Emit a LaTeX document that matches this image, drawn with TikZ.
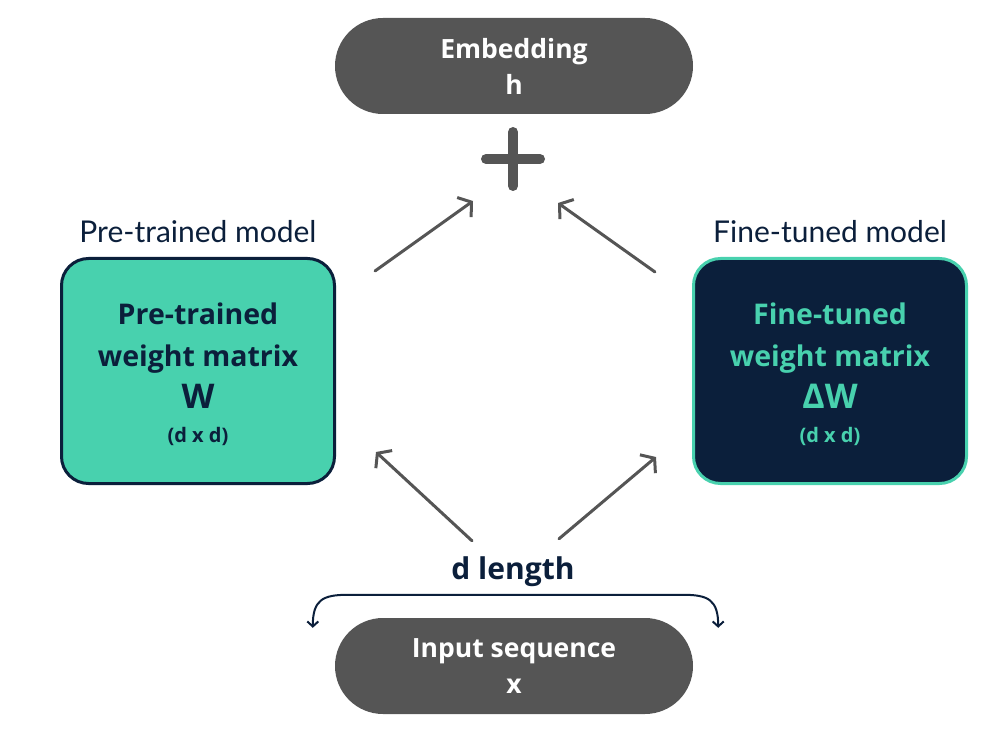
\documentclass[tikz,border=0pt]{standalone}
\usepackage{fontspec}
\setmainfont{Open Sans}
\newfontfamily\handfont{Lato}
\usetikzlibrary{arrows.meta,calc}

\definecolor{mint}{HTML}{48D1AE}
\definecolor{navy}{HTML}{0B1F3B}
\definecolor{pillgray}{HTML}{555555}

\tikzset{
    pill/.style={fill=pillgray, text=white, rounded corners=48pt, minimum width=358pt,
        minimum height=96pt, align=center, font=\bfseries\fontsize{26.5}{36}\selectfont},
    wbox/.style={rounded corners=27pt, line width=3pt, minimum width=273pt, minimum height=225pt,
        align=center, font=\bfseries\fontsize{28.5}{42}\selectfont},
    hand/.style={text=navy, font=\handfont\fontsize{30}{30}\selectfont},
    arr/.style={pillgray, line width=3pt, line cap=round, -{Straight Barb[length=9pt,width=24pt]}},
    plusbar/.style={pillgray, line width=10pt, line cap=round},
}

\begin{document}
\begin{tikzpicture}[x=1pt,y=-1pt]
    \useasboundingbox (0,0) rectangle (986,754);

    % top and bottom
    \node[pill] (emb) at (514,66) {Embedding\\h};
    \node[pill] (inp) at (514,666) {Input sequence\\x};

    % plus sign
    \coordinate (plus) at (513,159);
    \draw[plusbar] ($(plus)+(0,-27)$) -- ($(plus)+(0,27)$);
    \draw[plusbar] ($(plus)+(-27,0)$) -- ($(plus)+(27,0)$);

    % the two weight matrices
    \node[wbox, fill=mint, draw=navy, text=navy] (pre) at (198,371)
        {\\[-14pt]Pre-trained\\weight matrix\\{\fontsize{34}{40}\selectfont W}\\[-8pt]{\fontsize{20}{30}\selectfont (d x d)}};
    \node[wbox, fill=navy, draw=mint, text=mint] (fine) at (830,371)
        {\\[-14pt]Fine-tuned\\weight matrix\\{\fontsize{34}{40}\selectfont ΔW}\\[-8pt]{\fontsize{20}{30}\selectfont (d x d)}};

    \node[hand] (prelabel) at (198,232) {Pre-trained model};
    \node[hand] (finelabel) at (830,232) {Fine-tuned model};

    % arrows
    \draw[arr] ($(pre.north east)+(39,14)$) -- ($(plus)+(-40,42)$);
    \draw[arr] ($(fine.north west)+(-37,15)$) -- ($(plus)+(45,44)$);
    \draw[arr] ($(inp.north)+(-42,-77)$) -- ($(pre.east)+(40,81)$);
    \draw[arr] ($(inp.north)+(45,-79)$) -- ($(fine.west)+(-36,86)$);

    % d length
    \node[text=navy, font=\bfseries\fontsize{30}{30}\selectfont] (dlen) at (513,572) {d length};
    \coordinate (bl) at ($(inp.north west)+(-22,10)$);
    \coordinate (br) at ($(inp.north east)+(25,10)$);
    \draw[navy, line width=2pt, {Straight Barb[length=5pt,width=11pt]}-{Straight Barb[length=5pt,width=11pt]}]
        (bl) .. controls ($(bl)+(0,-28)$) and ($(bl)+(10,-33)$) .. ($(bl)+(35,-33)$)
        -- ($(br)+(-35,-33)$)
        .. controls ($(br)+(-10,-33)$) and ($(br)+(0,-28)$) .. (br);
\end{tikzpicture}
\end{document}
